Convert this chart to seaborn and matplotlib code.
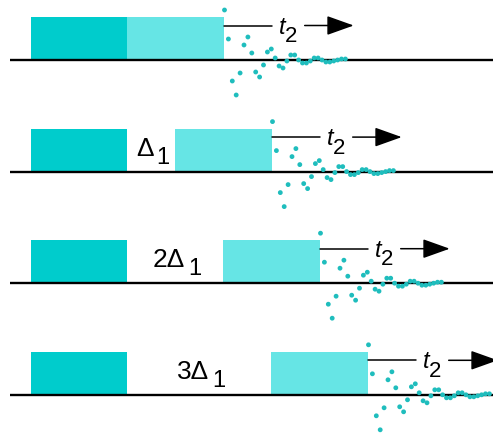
import numpy as np
import pandas as pd
import matplotlib
matplotlib.use("Agg")
import matplotlib.pyplot as plt
from matplotlib.patches import Rectangle
import seaborn as sns

sns.set_theme(style="white")
plt.rcParams["font.family"] = ["Liberation Sans", "DejaVu Sans"]
plt.rcParams["text.color"] = "black"

# Evolution delay of each experiment, in multiples of Delta_1
delay_steps = [0, 1, 2, 3]
delay_labels = ["", "Δ", "2Δ", "3Δ"]

# Free-induction decay sampled after the second pulse (amplitude, arbitrary units)
fid_values = [50, 21, -21, -35, -13, 15, 23, 7, -12, -17, -5, 8, 11, 2, -6, -8,
              -1, 5, 5, 0, -3, -3, -1, 2, 2, 0, -2, -2, -1, 0, 1, 1]

W, H = 493, 435
fig = plt.figure(figsize=(W / 100, H / 100), dpi=100)
ax = fig.add_axes([0, 0, 1, 1])
ax.set_xlim(0, W)
ax.set_ylim(H, 0)
ax.axis("off")

dark = "#00CCCC"
light = "#66E5E5"
dot = "#1FBDBD"

px_per_delta = 48.0
row_gap = 111.6
base0 = 61.0
pulse_h = 43.0
pulse_w = 96.5
p1_left = 30.7
p2_left0 = 127.2
fid_dx = 3.9

fig.canvas.draw()
inv = ax.transData.inverted()

rows = []
for i, (k, lab) in enumerate(zip(delay_steps, delay_labels)):
    base = base0 + i * row_gap
    p2_left = p2_left0 + k * px_per_delta
    p2_right = p2_left + pulse_w

    ax.plot([10, W], [base, base], color="black", lw=1.7, zorder=3, solid_capstyle="butt")
    ax.add_patch(Rectangle((p1_left, base - pulse_h), p2_left0 - p1_left, pulse_h,
                           color=dark, lw=0, zorder=2))
    ax.add_patch(Rectangle((p2_left, base - pulse_h), pulse_w, pulse_h,
                           color=light, lw=0, zorder=2))

    for j, v in enumerate(fid_values):
        rows.append({"x": p2_right + 0.8 + j * fid_dx, "y": base - v, "row": i})

    # acquisition arrow t2
    ay = base - 34.5
    ax.plot([p2_right, p2_right + 48], [ay, ay], color="black", lw=1.1, zorder=3)
    ax.annotate("", xy=(p2_right + 130, ay), xytext=(p2_right + 81, ay),
                arrowprops=dict(arrowstyle="-|>,head_length=1.4,head_width=0.5",
                                color="black", lw=1.1, shrinkA=0, shrinkB=0),
                annotation_clip=False, zorder=3)
    ax.text(p2_right + 55, ay + 7, "t", fontsize=17, style="italic",
            ha="left", va="baseline", zorder=4)
    ax.text(p2_right + 61, ay + 15.5, "2", fontsize=16,
            ha="left", va="baseline", zorder=4)

    if lab:
        gap_mid = (p2_left0 + p2_left) / 2
        tx = ax.text(gap_mid - 6, base - 17, lab, fontsize=19,
                     ha="center", va="baseline", zorder=4)
        bb = tx.get_window_extent(renderer=fig.canvas.get_renderer())
        x_right = inv.transform((bb.x1, 0))[0]
        ax.text(x_right + 2.5, base - 9, "1", fontsize=17,
                ha="left", va="baseline", zorder=4)

df = pd.DataFrame(rows)
sns.scatterplot(data=df, x="x", y="y", ax=ax, color=dot, s=12,
                edgecolor="none", zorder=5, legend=False)
ax.set_xlim(0, W)
ax.set_ylim(H, 0)
ax.axis("off")

fig.savefig("out.png", dpi=100)
